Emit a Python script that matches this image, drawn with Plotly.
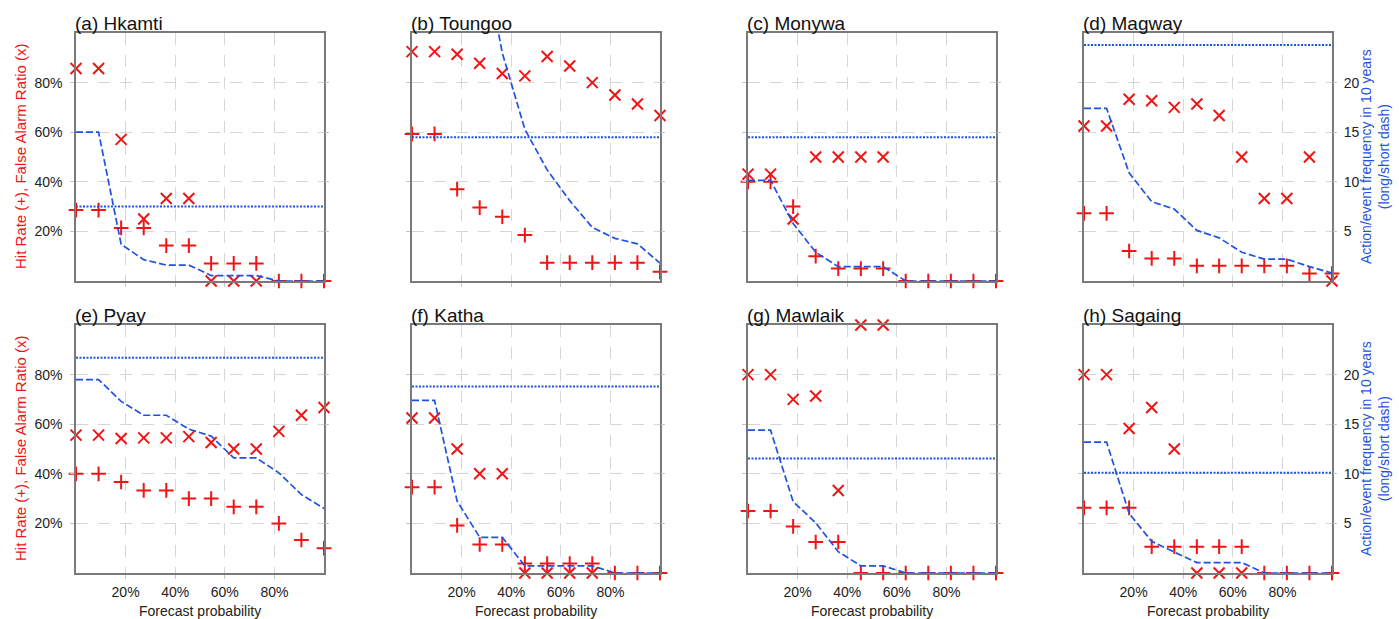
import plotly.graph_objects as go

# Forecast probability thresholds (%)
prob = [0, 9.1, 18.2, 27.3, 36.4, 45.5, 54.5, 63.6, 72.7, 81.8, 90.9, 100]

stations = ["(a) Hkamti", "(b) Toungoo", "(c) Monywa", "(d) Magway",
            "(e) Pyay", "(f) Katha", "(g) Mawlaik", "(h) Sagaing"]

# Tick positions and labels
pct_ticks = [20, 40, 60, 80]
pct_labels = ["20%", "40%", "60%", "80%"]
freq_ticks = [5, 10, 15, 20]
freq_labels = ["5", "10", "15", "20"]

# Hit rate (%)
hr_hkamti = [28.6, 28.6, 21.4, 21.4, 14.3, 14.3, 7.1, 7.1, 7.1, 0, 0, 0]
hr_toungoo = [59.3, 59.3, 37.0, 29.6, 25.9, 18.5, 7.4, 7.4, 7.4, 7.4, 7.4, 3.7]
hr_monywa = [40, 40, 30, 10, 5, 5, 5, 0, 0, 0, 0, 0]
hr_magway = [27.3, 27.3, 12.1, 9.1, 9.1, 6.1, 6.1, 6.1, 6.1, 6.1, 3.0, 3.0]
hr_pyay = [40, 40, 36.7, 33.3, 33.3, 30, 30, 26.7, 26.7, 20, 13.3, 10]
hr_katha = [34.6, 34.6, 19.2, 11.5, 11.5, 3.8, 3.8, 3.8, 3.8, 0, 0, 0]
hr_mawlaik = [25, 25, 18.8, 12.5, 12.5, 0, 0, 0, 0, 0, 0, 0]
hr_sagaing = [26.3, 26.3, 26.3, 10.6, 10.6, 10.6, 10.6, 10.6, 0, 0, 0, 0]

# False alarm ratio (%), None where no forecast was issued
far_hkamti = [85.7, 85.7, 57.1, 25.0, 33.3, 33.3, 0, 0, 0, None, None, None]
far_toungoo = [92.5, 92.5, 91.4, 87.8, 83.7, 82.7, 90.5, 86.7, 80.0, 75.0, 71.4, 66.7]
far_monywa = [43.1, 43.1, 25, 50, 50, 50, 50, None, None, None, None, None]
far_magway = [62.5, 62.5, 73.3, 72.7, 70.0, 71.4, 66.7, 50.0, 33.3, 33.3, 50.0, 0]
far_pyay = [55.6, 55.6, 54.2, 54.5, 54.5, 55.0, 52.6, 50, 50, 57.1, 63.6, 66.7]
far_katha = [62.5, 62.5, 50, 40, 40, 0, 0, 0, 0, None, None, None]
far_mawlaik = [80, 80, 70, 71.4, 33.3, 100, 100, None, None, None, None, None]
far_sagaing = [80, 80, 58.3, 66.7, 50, 0, 0, 0, None, None, None, None]

# Action frequency in 10 years
act_hkamti = [15.0, 15.0, 3.7, 2.15, 1.6, 1.6, 0.55, 0.55, 0.55, 0, 0, 0]
act_toungoo = [114, 114, 62, 35, 23, 15.3, 11.2, 8.1, 5.4, 4.3, 3.75, 1.8]
act_monywa = [10.15, 10.15, 5.8, 2.9, 1.45, 1.45, 1.45, 0, 0, 0, 0, 0]
act_magway = [17.4, 17.4, 10.9, 8.0, 7.25, 5.1, 4.35, 2.9, 2.2, 2.2, 1.45, 0.8]
act_pyay = [19.5, 19.5, 17.3, 15.9, 15.9, 14.5, 13.8, 11.6, 11.6, 10.1, 7.9, 6.5]
act_katha = [17.4, 17.4, 7.25, 3.6, 3.6, 0.72, 0.72, 0.72, 0.72, 0, 0, 0]
act_mawlaik = [14.4, 14.4, 7.2, 5.05, 2.15, 0.72, 0.72, 0, 0, 0, 0, 0]
act_sagaing = [13.2, 13.2, 6.0, 3.2, 2.1, 1.05, 1.05, 1.05, 0, 0, 0, 0]

# Event frequency in 10 years (one value per station)
event_freq = [7.5, 14.5, 14.5, 23.8, 21.7, 18.8, 11.55, 10.1]

hit_rates = [hr_hkamti, hr_toungoo, hr_monywa, hr_magway,
             hr_pyay, hr_katha, hr_mawlaik, hr_sagaing]
false_alarms = [far_hkamti, far_toungoo, far_monywa, far_magway,
                far_pyay, far_katha, far_mawlaik, far_sagaing]
actions = [act_hkamti, act_toungoo, act_monywa, act_magway,
           act_pyay, act_katha, act_mawlaik, act_sagaing]

W, H = 1399, 619
col_left = [76, 412, 748, 1084]
row_top = [33, 325]
size = 248

RED = "#f01414"
BLUE = "#1f52e0"
FONT = "Liberation Sans, Arial, sans-serif"
TICKFONT = dict(size=14, color="#222", family=FONT)

fig = go.Figure()
layout = {}
annotations = []

for k in range(8):
    r, c = divmod(k, 4)
    xa = f"x{k + 1}"
    ya = f"y{k + 1}"
    ya2 = f"y{k + 9}"
    x0 = col_left[c] / W
    x1 = (col_left[c] + size) / W
    y1 = 1 - row_top[r] / H
    y0 = 1 - (row_top[r] + size) / H

    # action frequency (long dash)
    fig.add_trace(go.Scatter(x=prob, y=actions[k], xaxis=xa, yaxis=ya2,
                             mode="lines",
                             line=dict(color=BLUE, width=1.7, dash="7px,3px")))
    # event frequency (short dash)
    fig.add_trace(go.Scatter(x=[prob[0], prob[-1]], y=[event_freq[k]] * 2,
                             xaxis=xa, yaxis=ya2, mode="lines",
                             line=dict(color=BLUE, width=2, dash="2px,1.5px")))
    # false alarm ratio
    fig.add_trace(go.Scatter(x=prob, y=false_alarms[k], xaxis=xa, yaxis=ya,
                             mode="markers", cliponaxis=False,
                             marker=dict(symbol="x-thin", size=11,
                                         line=dict(color=RED, width=2))))
    # hit rate
    fig.add_trace(go.Scatter(x=prob, y=hit_rates[k], xaxis=xa, yaxis=ya,
                             mode="markers", cliponaxis=False,
                             marker=dict(symbol="cross-thin", size=10.5,
                                         line=dict(color=RED, width=2))))

    frame = dict(showline=True, linecolor="#7a7a7a", linewidth=1.5,
                 mirror=True, zeroline=False, ticks="outside", ticklen=4,
                 tickcolor="#c4c4c4", tickfont=TICKFONT,
                 showgrid=True, gridcolor="#d6d6d6", gridwidth=1,
                 griddash="12px,10px", range=[0, 100], tickmode="array",
                 tickvals=pct_ticks, ticktext=pct_labels)
    layout[f"xaxis{k + 1}"] = dict(
        domain=[x0, x1], anchor=ya, showticklabels=(r == 1),
        ticklabelstandoff=1, **frame)
    layout[f"yaxis{k + 1}"] = dict(
        domain=[y0, y1], anchor=xa, showticklabels=(c == 0),
        ticklabelstandoff=5, **frame)
    layout[f"yaxis{k + 9}"] = dict(
        overlaying=ya, anchor=xa, side="right", range=[0, 25],
        tickmode="array", tickvals=freq_ticks, ticktext=freq_labels,
        showticklabels=(c == 3), ticklabelstandoff=4, showgrid=False,
        zeroline=False, showline=False, ticks="outside", ticklen=4,
        tickcolor="#c4c4c4", tickfont=TICKFONT)

    annotations.append(dict(
        text=stations[k], xref="paper", yref="paper", x=x0, y=y1,
        xanchor="left", yanchor="bottom", showarrow=False, xshift=-3,
        yshift=-3, font=dict(size=19, color="#111", family=FONT)))

    if r == 1:
        annotations.append(dict(
            text="Forecast probability", xref="paper", yref="paper",
            x=(x0 + x1) / 2, y=1 - 611 / H, xanchor="center",
            yanchor="middle", showarrow=False,
            font=dict(size=14, color="#222", family=FONT)))
    if c == 0:
        annotations.append(dict(
            text="Hit Rate (+), False Alarm Ratio (x)", xref="paper",
            yref="paper", x=20 / W, y=(y0 + y1) / 2, textangle=-90,
            xanchor="center", yanchor="middle", showarrow=False,
            font=dict(size=15, color=RED, family=FONT)))
    if c == 3:
        annotations.append(dict(
            text="Action/event frequency in 10 years<br>(long/short dash)",
            xref="paper", yref="paper", x=1375 / W, y=(y0 + y1) / 2,
            textangle=-90, xanchor="center", yanchor="middle",
            showarrow=False,
            font=dict(size=14, color=BLUE, family=FONT)))

fig.update_layout(
    width=W, height=H, margin=dict(l=0, r=0, t=0, b=0),
    paper_bgcolor="white", plot_bgcolor="white", showlegend=False,
    font=dict(family=FONT), annotations=annotations, **layout)

fig.write_html("out.html")
